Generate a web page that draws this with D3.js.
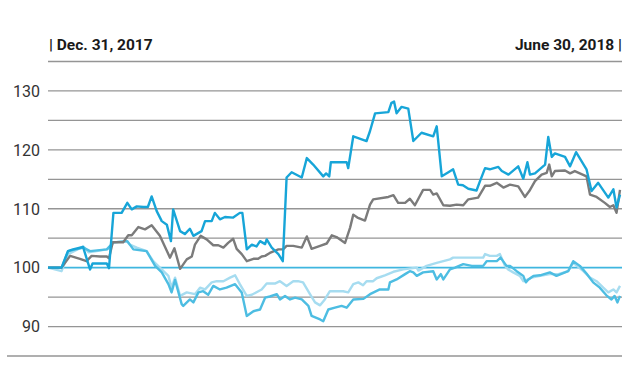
<!DOCTYPE html>
<html lang="en">
<head>
<meta charset="UTF-8">
<title>Share price development</title>
<script src="https://cdn.jsdelivr.net/npm/d3@7"></script>
<style>
  body { margin: 0; background: #fff; }
  text { font-family: Roboto, "DejaVu Sans", sans-serif; }
</style>
</head>
<body>
<script>
// period labels and y ticks
var periodStart = "Dec. 31, 2017",
    periodEnd = "June 30, 2018";
var yTicks = [90, 100, 110, 120, 130];
var gridValues = [85, 90, 95, 100, 105, 110, 115, 120, 125, 130, 135];

// [days after Dec 31 2017, index value]
var shareDark = [[0,100],[4.3,100],[6.3,102.8],[7.9,103.1],[11.1,103.5],[13.3,99.7],[14.1,100.7],[18.6,100.7],[19.3,99.9],[20.7,109.3],[23.3,109.3],[25.1,111.0],[26.5,109.9],[28.1,110.4],[30.2,110.3],[31.6,110.3],[32.8,112.1],[34.4,109.6],[36.0,107.9],[37.6,107.3],[38.9,104.5],[39.6,109.9],[41.8,106.2],[43.3,105.7],[44.9,106.6],[46.0,105.4],[48.6,106.2],[49.7,107.9],[51.8,107.9],[52.8,109.3],[54.4,108.2],[56.0,108.6],[58.6,108.5],[60.7,109.3],[61.5,109.3],[62.9,103.1],[64.5,103.9],[66.0,103.6],[67.1,104.5],[68.7,104.0],[69.2,104.8],[70.8,103.4],[72.9,102.3],[74.3,101.1],[75.5,115.3],[77.1,116.2],[80.3,115.3],[81.9,118.6],[83.9,117.5],[87.1,115.5],[88.0,116.0],[89.0,115.5],[89.5,117.9],[94.5,117.9],[95.0,116.9],[96.6,122.3],[100.8,121.5],[101.9,123.2],[103.5,126.2],[107.7,126.4],[108.7,128.0],[109.5,128.2],[110.3,126.2],[111.9,127.3],[114.0,127.0],[115.6,121.5],[118.2,122.9],[121.9,122.3],[123.0,124.0],[124.6,115.5],[126.7,116.2],[128.2,116.7],[129.8,114.1],[131.3,114.0],[133.0,113.4],[135.6,113.1],[136.7,114.7],[138.3,116.9],[139.8,116.7],[142.5,117.1],[143.6,116.4],[145.7,115.8],[148.8,117.2],[150.4,115.1],[151.7,117.9],[152.5,115.8],[154.1,116.0],[157.3,117.5],[158.3,122.2],[159.4,118.8],[160.4,119.4],[163.6,118.8],[165.2,117.2],[167.1,119.6],[170.4,116.7],[172.0,113.0],[174.1,114.4],[177.3,111.9],[178.9,113.3],[179.9,110.2],[181,112.4]];

var indexGrey = [[0,100],[4.3,100],[7.0,102.0],[10.1,101.5],[12.2,101.1],[13.8,102.0],[16.5,101.9],[18.6,101.9],[19.3,101.6],[20.5,104.3],[23.8,104.3],[25.4,105.5],[26.5,105.5],[28.6,106.9],[30.7,106.5],[32.8,107.2],[35.4,105.4],[38.6,101.7],[40.0,103.3],[41.8,99.8],[43.9,101.4],[45.5,101.9],[46.5,103.9],[48.3,105.4],[50.2,104.8],[52.3,103.8],[53.9,103.8],[55.5,103.4],[57.0,104.2],[58.6,104.9],[59.7,103.2],[61.3,102.3],[62.9,101.1],[65.0,101.5],[66.5,101.5],[67.6,101.9],[68.7,102.0],[70.2,102.5],[72.9,103.1],[74.4,103.1],[75.5,103.7],[77.6,103.7],[80.3,103.4],[81.9,105.3],[83.4,103.2],[86.1,103.7],[88.2,104.1],[89.8,105.5],[91.3,105.2],[94.0,104.2],[95.6,106.8],[96.6,109.0],[97.9,108.5],[100.3,108.0],[101.9,110.7],[102.9,111.6],[107.7,112.0],[109.3,112.3],[110.8,111.0],[113.0,111.0],[114.5,111.7],[116.1,110.6],[118.7,113.2],[120.9,113.2],[121.9,112.4],[123.0,112.6],[125.1,110.6],[127.2,110.5],[129.3,110.7],[131.4,110.6],[133.0,111.6],[136.1,111.9],[138.3,113.9],[139.8,113.9],[142.0,114.4],[144.1,113.6],[146.2,114.1],[148.8,113.8],[150.9,112.0],[152.3,113.0],[154.1,114.7],[156.2,115.8],[157.8,116.1],[158.6,117.5],[159.4,115.5],[160.4,116.4],[163.6,116.5],[165.2,116.0],[166.7,116.4],[170.4,115.5],[171.5,112.4],[173.6,112.0],[176.2,111.0],[177.8,110.3],[178.9,110.6],[179.9,109.3],[181,113.2]];

var indexPale = [[0,100],[4.3,99.4],[6.4,102.3],[11.2,103.6],[12.8,102.6],[15.4,102.8],[18.6,103.1],[19.6,103.3],[20.7,104.3],[24.9,104.5],[25.9,103.9],[28.1,103.4],[31.2,102.8],[33.3,101.1],[35.4,100.0],[38.1,98.6],[39.1,96.6],[40.2,98.3],[41.8,95.2],[43.9,95.8],[46.5,95.5],[48.1,96.6],[49.7,96.3],[51.8,97.5],[53.4,97.7],[55.5,97.7],[57.6,98.3],[59.2,98.7],[60.7,97.2],[62.9,95.2],[64.5,95.4],[67.6,96.3],[69.2,97.3],[71.8,97.3],[73.4,97.7],[75.5,96.9],[77.6,97.7],[79.1,97.7],[80.7,97.5],[82.9,95.5],[84.5,94.1],[86.1,93.6],[87.6,94.6],[89.2,96.0],[91.3,96.0],[93.4,96.0],[95.0,95.8],[96.6,97.2],[98.2,97.5],[99.7,97.0],[100.8,97.7],[102.9,97.7],[104.0,98.2],[106.6,98.7],[109.3,99.3],[112.4,99.7],[116.7,100.0],[117.2,99.5],[119.8,100.3],[123.0,100.8],[127.2,101.4],[128.2,101.7],[130.9,101.7],[134.1,101.7],[137.7,101.7],[138.3,102.3],[139.8,102.0],[142.0,102.0],[143.0,102.3],[144.6,100.3],[145.6,99.7],[147.2,99.2],[149.3,98.6],[150.4,97.7],[152.0,98.0],[153.0,98.3],[155.7,98.6],[158.8,98.9],[161.5,98.9],[164.6,99.4],[166.2,100.8],[169.4,99.4],[171.5,98.3],[173.6,97.7],[175.7,96.6],[177.3,95.8],[178.9,96.3],[179.9,95.8],[181,96.9]];

var indexMid = [[0,100],[4.3,100],[6.4,102.8],[11.2,103.4],[13.3,102.8],[18.6,103.1],[20.7,104.3],[25.1,104.5],[27.0,103.1],[31.2,102.8],[33.9,100.3],[36.0,99.2],[38.1,97.2],[39.1,95.8],[40.2,97.9],[42.3,93.8],[42.8,93.5],[44.9,94.6],[46.0,94.1],[47.6,95.8],[49.1,96.0],[50.7,95.4],[52.3,96.9],[54.4,96.3],[56.5,96.6],[59.2,97.2],[61.3,95.8],[62.9,91.8],[65.0,92.6],[67.1,92.9],[68.7,94.9],[70.2,95.1],[72.4,95.5],[73.4,94.6],[75.0,95.2],[76.6,94.6],[78.2,94.9],[80.3,94.6],[82.4,93.5],[83.4,91.8],[86.1,91.2],[87.1,90.9],[88.7,92.9],[90.8,93.2],[92.9,93.5],[94.5,93.2],[96.6,94.6],[99.8,94.7],[101.9,95.5],[105.0,96.3],[107.7,96.3],[108.2,97.5],[110.3,98.0],[113.0,98.9],[114.5,99.4],[115.6,99.2],[116.7,98.6],[118.7,99.2],[121.9,99.4],[123.0,98.0],[124.3,98.9],[125.1,98.0],[127.2,99.7],[128.8,100.0],[131.4,100.6],[134.1,100.3],[137.7,100.3],[138.8,101.1],[142.0,101.1],[143.2,101.7],[145.1,100.3],[146.2,100.3],[148.3,99.4],[150.4,98.6],[151.2,97.5],[152.0,98.0],[153.6,98.6],[155.7,98.7],[158.8,99.2],[160.9,98.6],[164.6,99.4],[166.2,101.1],[168.3,100.3],[170.4,99.0],[172.5,97.5],[174.6,96.6],[176.7,95.3],[178.3,94.6],[179.3,95.2],[180.2,94.1],[181,95.2]];

var width = 640, height = 369;
var startDate = new Date(2017, 11, 31), endDate = new Date(2018, 5, 30);

var x = d3.scaleTime().domain([startDate, endDate]).range([48, 620]);
var y = d3.scaleLinear().domain([85, 135]).range([356, 61.5]);

function toDate(d) { return new Date(startDate.getTime() + d * 864e5); }

var svg = d3.select("body").append("svg")
    .attr("width", width)
    .attr("height", height);

// grid lines
svg.append("g").selectAll("line")
    .data(gridValues.filter(function(v) { return v !== 100; }))
    .enter().append("line")
    .attr("x1", function(v) { return v === 85 ? 7 : 48; })
    .attr("x2", 622)
    .attr("y1", function(v) { return y(v); })
    .attr("y2", function(v) { return y(v); })
    .attr("stroke", "#959595")
    .attr("stroke-width", 1.3);

// y labels
svg.append("g").selectAll("text")
    .data(yTicks)
    .enter().append("text")
    .attr("x", 40)
    .attr("y", function(v) { return y(v); })
    .attr("dy", "0.36em")
    .attr("text-anchor", "end")
    .attr("fill", "#333")
    .attr("font-size", 16)
    .text(function(v) { return v; });

// 100 baseline
svg.append("line")
    .attr("x1", 48).attr("x2", 622)
    .attr("y1", y(100)).attr("y2", y(100))
    .attr("stroke", "#3fb6df")
    .attr("stroke-width", 1.6);

var line = d3.line()
    .x(function(d) { return x(toDate(d[0])); })
    .y(function(d) { return y(d[1]); });

var series = [
    {data: indexPale, color: "#a6dcf0"},
    {data: indexMid, color: "#4dbde2"},
    {data: indexGrey, color: "#7b7b7b"},
    {data: shareDark, color: "#17a5d8"}
];

svg.append("g").selectAll("path")
    .data(series)
    .enter().append("path")
    .attr("d", function(s) { return line(s.data); })
    .attr("fill", "none")
    .attr("stroke", function(s) { return s.color; })
    .attr("stroke-width", 2.4)
    .attr("stroke-linejoin", "round");

// period labels
svg.append("text")
    .attr("x", 49).attr("y", 50)
    .attr("font-size", 15.5)
    .attr("font-weight", "bold")
    .attr("fill", "#1a1a1a")
    .text("| " + periodStart);

svg.append("text")
    .attr("x", 622).attr("y", 50)
    .attr("text-anchor", "end")
    .attr("font-size", 15.5)
    .attr("font-weight", "bold")
    .attr("fill", "#1a1a1a")
    .text(periodEnd + " |");
</script>
</body>
</html>
